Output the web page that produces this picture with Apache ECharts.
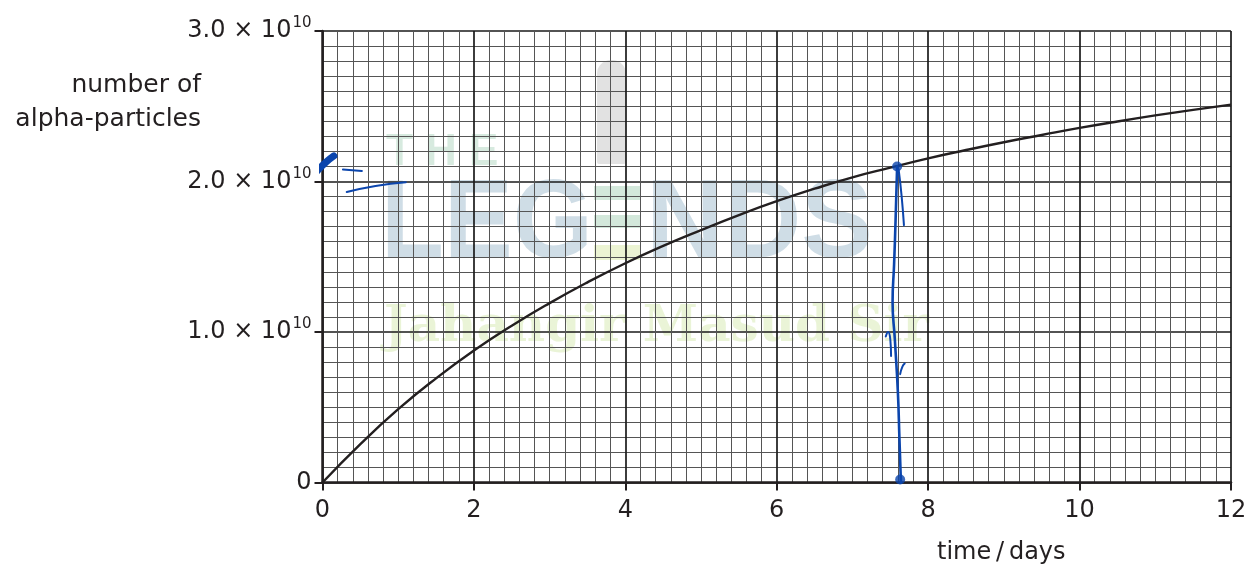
<!DOCTYPE html>
<html>
<head>
<meta charset="utf-8">
<script src="https://cdn.jsdelivr.net/npm/echarts@6/dist/echarts.min.js"></script>
<style>
  html, body { margin: 0; padding: 0; background: #fff; }
  #chart { width: 1250px; height: 569px; }
</style>
</head>
<body>
<div id="chart"></div>
<script>
// time in days, number of alpha-particles in units of 10^10
var days = [0, 0.5, 1, 1.5, 2, 2.5, 3, 3.5, 4, 4.5, 5, 5.5, 6, 6.5, 7, 7.5, 8, 8.5, 9, 9.5, 10, 10.5, 11, 11.5, 12];
var counts = [0, 0.255, 0.487, 0.692, 0.877, 1.042, 1.192, 1.33, 1.457, 1.572, 1.677, 1.777, 1.869, 1.952, 2.028, 2.092, 2.154, 2.209, 2.261, 2.309, 2.356, 2.399, 2.439, 2.476, 2.511];
var xTicks = [0, 2, 4, 6, 8, 10, 12];
var yTicks = [0, 1.0, 2.0, 3.0];

// hand-drawn pen marks on the sheet (days, x10^10)
var penMain = [[7.59, 2.10], [7.57, 1.75], [7.55, 1.45], [7.53, 1.2], [7.56, 0.95], [7.6, 0.6], [7.62, 0.3], [7.64, 0.0]];
var penSide = [[7.61, 2.08], [7.65, 1.9], [7.68, 1.71]];
var penHook = [[7.44, 0.97], [7.47, 1.0], [7.5, 0.95], [7.51, 0.84]];
var penHook2 = [[7.63, 0.72], [7.66, 0.77], [7.69, 0.79]];
var penDash = [[0.27, 2.08], [0.52, 2.07]];
var penLine = [[0.32, 1.93], [0.7, 1.97], [1.1, 1.995]];
var penBlob = [[-0.07, 2.07], [0.05, 2.13], [0.15, 2.17]];
var penDots = [[7.59, 2.1], [7.63, 0.02]];

var ink = '#231f20';
var pen = '#0b45ad';
var font = '"DejaVu Sans", sans-serif';

var chart = echarts.init(document.getElementById('chart'));

function stroke(pts, w) {
  return {
    type: 'line', data: pts, smooth: true, showSymbol: false, clip: false,
    silent: true, z: 5,
    lineStyle: { color: pen, width: w, cap: 'round' }
  };
}

var curve = days.map(function (d, i) { return [d, counts[i]]; });

var option = {
  backgroundColor: '#fff',
  animation: false,
  grid: { left: 322.5, right: 19, top: 31, bottom: 86.5, containLabel: false, outerBoundsMode: 'none' },
  xAxis: {
    type: 'value', min: 0, max: 12, interval: 2,
    axisLine: { show: true, onZero: false, lineStyle: { color: ink, width: 2.5 } },
    axisTick: { show: true, length: 8, lineStyle: { color: ink, width: 2 } },
    axisLabel: {
      fontSize: 24, color: ink, margin: 16, fontFamily: font,
      formatter: function (v) { return xTicks.indexOf(v) >= 0 ? String(v) : ''; }
    },
    splitLine: { show: true, lineStyle: { color: '#1a1a1a', width: 1.7 } },
    minorTick: { show: false, splitNumber: 10 },
    minorSplitLine: { show: true, lineStyle: { color: '#555', width: 1 } }
  },
  yAxis: {
    type: 'value', min: 0, max: 3, interval: 1,
    axisLine: { show: true, onZero: false, lineStyle: { color: ink, width: 2.5 } },
    axisTick: { show: true, length: 8, lineStyle: { color: ink, width: 2 } },
    axisLabel: {
      color: ink, margin: 11, fontFamily: font,
      formatter: function (v) {
        if (v === 0) return '{a|0}';
        if (yTicks.indexOf(v) < 0) return '';
        return '{a|' + v.toFixed(1) + ' × 10}{s|10}';
      },
      rich: {
        a: { fontSize: 24, color: ink, fontFamily: font, lineHeight: 30 },
        s: { fontSize: 15, color: ink, fontFamily: font, verticalAlign: 'top', lineHeight: 14, padding: [0, 0, 0, 1] }
      }
    },
    splitLine: { show: true, lineStyle: { color: '#1a1a1a', width: 1.7 } },
    minorTick: { show: false, splitNumber: 10 },
    minorSplitLine: { show: true, lineStyle: { color: '#555', width: 1 } }
  },
  graphic: [
    // watermark
    { type: 'rect', z: -1, shape: { x: 597, y: 60, width: 29, height: 104, r: [14, 14, 2, 2] }, style: { fill: 'rgba(165,165,165,0.32)' } },
    { type: 'text', z: -1, x: 386, y: 131, style: { text: 'T H E', font: 'bold 44px "Liberation Sans"', fill: 'rgba(150,200,170,0.38)', textVerticalAlign: 'top' } },
    { type: 'text', z: -1, x: 381, y: 170, scaleX: 0.92, style: { text: 'LEG', font: 'bold 112px "Liberation Sans"', fill: 'rgba(130,165,190,0.38)', textVerticalAlign: 'top' } },
    { type: 'rect', z: -1, shape: { x: 594, y: 186, width: 46, height: 14 }, style: { fill: 'rgba(140,195,160,0.38)' } },
    { type: 'rect', z: -1, shape: { x: 594, y: 215, width: 46, height: 13 }, style: { fill: 'rgba(140,195,160,0.38)' } },
    { type: 'rect', z: -1, shape: { x: 594, y: 245, width: 46, height: 15 }, style: { fill: 'rgba(205,225,140,0.38)' } },
    { type: 'text', z: -1, x: 646, y: 170, scaleX: 0.96, style: { text: 'NDS', font: 'bold 112px "Liberation Sans"', fill: 'rgba(130,165,190,0.38)', textVerticalAlign: 'top' } },
    { type: 'text', z: -1, x: 384, y: 303, style: { text: 'Jahangir Masud Sir', font: 'bold 50px "DejaVu Serif"', fill: 'rgba(200,225,150,0.38)', textVerticalAlign: 'top' } },
    // axis titles
    { type: 'text', x: 201, y: 85, style: { text: 'number of', font: '25px "DejaVu Sans"', fill: ink, textAlign: 'right', textVerticalAlign: 'middle' } },
    { type: 'text', x: 201, y: 119, style: { text: 'alpha-particles', font: '25px "DejaVu Sans"', fill: ink, textAlign: 'right', textVerticalAlign: 'middle' } },
    { type: 'text', x: 937, y: 553, style: { text: 'time\u2009/\u2009days', font: '24px "DejaVu Sans"', fill: ink, textVerticalAlign: 'middle' } }
  ],
  series: [
    {
      name: 'alpha-particles', type: 'line', data: curve, smooth: true, showSymbol: false,
      z: 4, lineStyle: { color: ink, width: 2.4 }
    },
    stroke(penMain, 2.6),
    stroke(penSide, 2),
    stroke(penHook, 2),
    stroke(penHook2, 2),
    stroke(penDash, 2),
    stroke(penLine, 2),
    stroke(penBlob, 7),
    {
      type: 'scatter', data: penDots, symbolSize: 10, silent: true, z: 6, clip: false,
      itemStyle: { color: pen }
    }
  ]
};

chart.setOption(option);
</script>
</body>
</html>
